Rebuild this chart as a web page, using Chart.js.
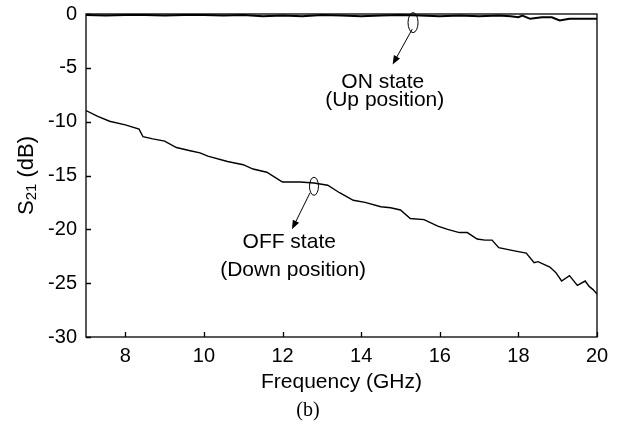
<!DOCTYPE html>
<html>
<head>
<meta charset="utf-8">
<script src="https://cdn.jsdelivr.net/npm/chart.js@4/dist/chart.umd.min.js"></script>
<style>
  html, body { margin: 0; padding: 0; background: #fff; }
  #wrap { width: 620px; height: 436px; }
</style>
</head>
<body>
<div id="wrap"><canvas id="s21Chart" width="620" height="436"></canvas></div>
<script>
// tick labels
const xTicks = [8, 10, 12, 14, 16, 18, 20];
const yTicks = [-30, -25, -20, -15, -10, -5, 0];

// ON state (up position)
const onFreq = [7, 7.5, 8, 8.5, 9, 9.5, 10, 10.5, 11, 11.5, 12, 12.5, 13, 13.5, 14, 14.5, 15, 15.5, 16, 16.5, 17, 17.5, 17.8, 18.0, 18.1, 18.3, 18.6, 18.85, 19.05, 19.3, 19.6, 20];
const onVal = [-0.1, -0.15, -0.1, -0.1, -0.15, -0.1, -0.1, -0.15, -0.1, -0.2, -0.15, -0.2, -0.1, -0.15, -0.2, -0.15, -0.1, -0.15, -0.2, -0.15, -0.2, -0.15, -0.2, -0.3, -0.15, -0.45, -0.3, -0.3, -0.6, -0.45, -0.45, -0.45];

// OFF state (down position)
const offFreq = [7.0, 7.3, 7.6, 8.0, 8.35, 8.45, 8.7, 9.0, 9.3, 9.65, 9.9, 10.1, 10.6, 11.0, 11.25, 11.6, 11.95, 12.0, 12.45, 12.8, 13.15, 13.45, 13.8, 14.1, 14.5, 14.75, 15.0, 15.25, 15.6, 15.95, 16.2, 16.5, 16.7, 16.95, 17.15, 17.33, 17.5, 17.9, 18.2, 18.4, 18.5, 18.8, 18.95, 19.1, 19.3, 19.5, 19.7, 19.8, 19.9, 20.0];
const offVal = [-8.97, -9.5, -9.96, -10.3, -10.7, -11.4, -11.6, -11.8, -12.4, -12.7, -12.9, -13.2, -13.7, -14.0, -14.4, -14.7, -15.5, -15.6, -15.6, -15.7, -15.9, -16.6, -17.3, -17.5, -17.9, -18.0, -18.2, -19.0, -19.1, -19.7, -20.0, -20.3, -20.3, -20.9, -21.0, -21.0, -21.7, -22.0, -22.2, -23.1, -23.0, -23.5, -24.0, -24.8, -24.3, -25.2, -24.8, -25.3, -25.6, -26.0];

// annotations, in data units
const notes = [
    { ellipse: [15.32, -0.8], rx: 5, ry: 10, arrow: [15.3, -1.4, 14.8, -4.7],
      lines: ['ON state', '(Up position)'], textAt: [[14.55, -6.3], [14.6, -8.0]] },
    { ellipse: [12.8, -16.0], rx: 4.5, ry: 9, arrow: [12.7, -16.6, 12.24, -20.0],
      lines: ['OFF state', '(Down position)'], textAt: [[12.17, -21.2], [12.27, -23.8]] }
];

const sans = '"Liberation Sans", Arial, sans-serif';

function toPoints(xs, ys) {
    return xs.map((x, i) => ({ x: x, y: ys[i] }));
}

// drop the label overhang padding so the plot box sits where the layout says
function fixSize(prop, size) {
    return scale => {
        scale[prop] = size;
        scale.paddingTop = 0;
        scale.paddingBottom = 0;
        scale.paddingLeft = 0;
        scale.paddingRight = 0;
    };
}

const decorPlugin = {
    id: 'decor',
    afterDatasetsDraw(chart) {
        const { ctx, chartArea: a, scales: { x, y } } = chart;
        ctx.save();
        ctx.strokeStyle = '#000';
        ctx.fillStyle = '#000';
        ctx.lineWidth = 1.3;
        ctx.strokeRect(a.left, a.top, a.right - a.left, a.bottom - a.top);

        // inward ticks
        ctx.beginPath();
        xTicks.forEach(v => {
            const px = Math.round(x.getPixelForValue(v)) + 0.5;
            ctx.moveTo(px, a.bottom);
            ctx.lineTo(px, a.bottom - 5);
        });
        yTicks.forEach(v => {
            const py = Math.round(y.getPixelForValue(v)) + 0.5;
            ctx.moveTo(a.left, py);
            ctx.lineTo(a.left + 5, py);
        });
        ctx.stroke();

        // ellipses, arrows, notes
        ctx.lineWidth = 1;
        notes.forEach(n => {
            ctx.beginPath();
            ctx.ellipse(x.getPixelForValue(n.ellipse[0]), y.getPixelForValue(n.ellipse[1]), n.rx, n.ry, 0, 0, Math.PI * 2);
            ctx.stroke();

            const x1 = x.getPixelForValue(n.arrow[0]), y1 = y.getPixelForValue(n.arrow[1]);
            const x2 = x.getPixelForValue(n.arrow[2]), y2 = y.getPixelForValue(n.arrow[3]);
            const ang = Math.atan2(y2 - y1, x2 - x1);
            ctx.beginPath();
            ctx.moveTo(x1, y1);
            ctx.lineTo(x2 - 6 * Math.cos(ang), y2 - 6 * Math.sin(ang));
            ctx.stroke();
            ctx.beginPath();
            ctx.moveTo(x2, y2);
            ctx.lineTo(x2 - 9 * Math.cos(ang) + 3.5 * Math.sin(ang), y2 - 9 * Math.sin(ang) - 3.5 * Math.cos(ang));
            ctx.lineTo(x2 - 9 * Math.cos(ang) - 3.5 * Math.sin(ang), y2 - 9 * Math.sin(ang) + 3.5 * Math.cos(ang));
            ctx.closePath();
            ctx.fill();

            ctx.font = '21px ' + sans;
            ctx.textAlign = 'center';
            ctx.textBaseline = 'middle';
            n.lines.forEach((t, i) => {
                ctx.fillText(t, x.getPixelForValue(n.textAt[i][0]), y.getPixelForValue(n.textAt[i][1]));
            });
        });

        // axis titles and caption
        ctx.font = '21px ' + sans;
        ctx.textAlign = 'center';
        ctx.textBaseline = 'middle';
        ctx.fillText('Frequency (GHz)', (a.left + a.right) / 2, 382);

        ctx.save();
        ctx.translate(27, (a.top + a.bottom) / 2);
        ctx.rotate(-Math.PI / 2);
        ctx.textAlign = 'left';
        ctx.font = '22px ' + sans;
        const wS = ctx.measureText('S').width;
        ctx.font = '15px ' + sans;
        const wSub = ctx.measureText('21').width;
        ctx.font = '22px ' + sans;
        const wRest = ctx.measureText(' (dB)').width;
        let cx = -(wS + wSub + wRest) / 2;
        ctx.fillText('S', cx, 0);
        cx += wS;
        ctx.font = '15px ' + sans;
        ctx.fillText('21', cx, 5);
        cx += wSub;
        ctx.font = '22px ' + sans;
        ctx.fillText(' (dB)', cx, 0);
        ctx.restore();

        ctx.font = '20px "Liberation Serif", "Times New Roman", serif';
        ctx.fillText('(b)', 308, 411);
        ctx.restore();
    }
};

const ctx = document.getElementById('s21Chart').getContext('2d');
new Chart(ctx, {
    type: 'line',
    data: {
        datasets: [{
            label: 'ON state',
            data: toPoints(onFreq, onVal),
            borderColor: '#000',
            borderWidth: 2,
            pointRadius: 0,
            tension: 0,
            clip: false
        }, {
            label: 'OFF state',
            data: toPoints(offFreq, offVal),
            borderColor: '#000',
            borderWidth: 1.4,
            pointRadius: 0,
            tension: 0
        }]
    },
    options: {
        responsive: false,
        animation: false,
        layout: { padding: { left: 0, right: 23, top: 14, bottom: 59 } },
        plugins: {
            legend: { display: false },
            tooltip: { enabled: false }
        },
        scales: {
            x: {
                type: 'linear',
                min: 7,
                max: 20,
                afterBuildTicks: scale => { scale.ticks = xTicks.map(v => ({ value: v })); },
                afterFit: fixSize('height', 40),
                grid: { display: false, drawTicks: false },
                border: { display: false },
                ticks: { color: '#000', padding: 7, font: { family: sans, size: 20 } }
            },
            y: {
                type: 'linear',
                min: -30,
                max: 0,
                afterBuildTicks: scale => { scale.ticks = yTicks.map(v => ({ value: v })); },
                afterFit: fixSize('width', 86),
                grid: { display: false, drawTicks: false },
                border: { display: false },
                ticks: { color: '#000', padding: 9, font: { family: sans, size: 20 } }
            }
        }
    },
    plugins: [decorPlugin]
});
</script>
</body>
</html>
